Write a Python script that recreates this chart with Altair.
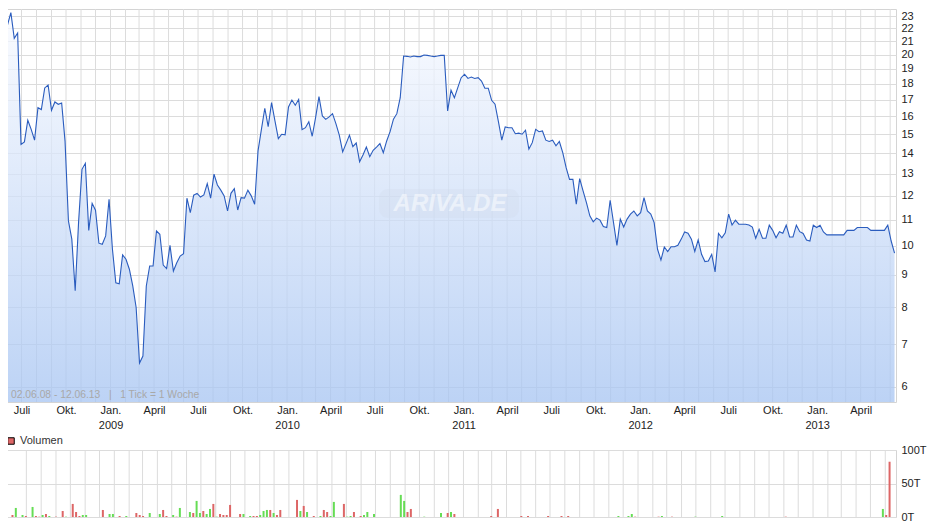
import altair as alt
import pandas as pd

# Weekly closing prices (1 Tick = 1 Woche), starting 02.06.2008
prices = [
    22.27, 23.29, 21.22, 21.63, 14.45, 14.58, 15.77, 15.26, 14.67, 16.5,
    16.39, 17.73, 17.92, 16.35, 16.85, 16.71, 16.79, 14.62, 10.95, 10.25,
    8.50, 10.9, 13.2, 13.49, 10.58, 11.67, 11.38, 10.1, 10.06, 10.37,
    11.84, 9.88, 8.75, 8.72, 9.68, 9.53, 9.19, 8.65, 8.0, 6.54,
    6.71, 8.65, 9.30, 9.30, 10.56, 10.43, 9.33, 9.21, 10.02, 9.13,
    9.41, 9.64, 9.72, 11.89, 11.28, 12.02, 12.1, 11.94, 12.03, 12.53,
    11.89, 12.97, 12.47, 12.24, 11.99, 11.35, 12.1, 12.31, 11.39, 11.91,
    11.89, 12.24, 11.99, 11.63, 14.11, 15.26, 16.47, 15.41, 16.81, 15.73,
    14.75, 14.99, 14.96, 16.55, 16.97, 16.65, 17.0, 15.24, 15.35, 15.69,
    14.88, 15.92, 17.18, 16.02, 15.82, 15.96, 16.15, 15.58, 14.94, 14.06,
    14.49, 14.94, 14.33, 14.52, 13.57, 13.9, 14.31, 13.82, 14.14, 14.31,
    14.49, 14.02, 14.63, 15.13, 15.83, 16.15, 17.11, 19.9, 19.88, 19.83,
    19.9, 19.86, 19.86, 19.98, 19.95, 19.9, 19.86, 19.9, 19.95, 19.95,
    16.31, 17.58, 17.11, 17.75, 18.40, 18.63, 18.35, 18.44, 18.35, 18.40,
    18.18, 17.71, 17.71, 16.95, 16.71, 15.69, 14.67, 15.39, 15.35, 15.35,
    15.02, 15.05, 14.99, 15.21, 14.21, 14.54, 15.26, 15.13, 15.17, 14.67,
    14.60, 14.67, 14.37, 14.60, 14.02, 13.28, 12.73, 12.73, 11.63, 12.76,
    12.21, 11.70, 11.15, 10.91, 11.06, 10.98, 10.73, 10.69, 11.80, 10.88,
    10.02, 11.02, 10.71, 11.02, 11.22, 11.35, 11.15, 11.28, 11.91, 11.35,
    11.22, 10.88, 9.88, 9.50, 9.96, 9.80, 9.97, 9.97, 10.02, 10.25,
    10.52, 10.47, 10.25, 9.80, 10.22, 9.70, 9.45, 9.47, 9.70, 9.10,
    10.46, 10.30, 10.49, 11.22, 10.79, 10.98, 10.82, 10.82, 10.82, 10.79,
    10.71, 10.28, 10.62, 10.28, 10.28, 10.78, 10.58, 10.30, 10.53, 10.47,
    10.78, 10.33, 10.33, 10.78, 10.53, 10.46, 10.22, 10.18, 10.78, 10.69,
    10.78, 10.52, 10.41, 10.41, 10.41, 10.41, 10.41, 10.41, 10.58, 10.58,
    10.58, 10.69, 10.69, 10.69, 10.69, 10.58, 10.58, 10.58, 10.58, 10.58,
    10.78, 10.18, 9.74,
]

# Weekly volume (in thousands, "T"); week index, value, direction (u = up/green, d = down/red)
vol_week = [0, 1, 3, 4, 6, 7, 8, 9, 10, 11, 13, 15, 16, 18, 19, 20, 21, 22, 27, 29,
            30, 32, 34, 37, 38, 39, 41, 44, 45, 46, 48, 49, 50, 53, 54, 55, 56, 57, 58, 59,
            60, 61, 62, 63, 64, 65, 68, 69, 71, 72, 73, 74, 75, 76, 77, 78, 79, 80, 85, 86,
            87, 88, 90, 92, 93, 94, 95, 96, 99, 100, 101, 102, 104, 105, 106, 108, 116, 117, 118, 119,
            123, 128, 130, 131, 132, 143, 145, 152, 154, 160, 164, 166, 181, 184, 185, 186, 193, 194, 197, 204,
            212, 231, 260, 261, 262]
vol_value = [3, 13.5, 3, 1.5, 15, 1.5, 0.5, 3, 4.5, 1.5, 0.5, 9, 0.5, 19.5, 7.5, 1.5, 3, 3, 10.5, 4.5,
             4.5, 1.5, 1.5, 6, 3, 1.5, 6, 4.5, 10.5, 1.5, 3, 0.5, 13.5, 7.5, 6, 24, 6, 9, 4.5, 12,
             19.5, 0.5, 4.5, 3, 3, 18, 4.5, 4.5, 1.5, 1.5, 1.5, 3, 9, 10.5, 10.5, 6, 3, 10.5, 25.5, 9,
             16.5, 7.5, 1.5, 1.5, 10.5, 7.5, 1.5, 22.5, 19.5, 0.5, 1.5, 7.5, 1.5, 3, 7.5, 4.5, 33, 24, 7.5, 12,
             0.5, 6, 6, 7.5, 4.5, 1.5, 12, 1.5, 1.5, 1.5, 1.5, 1.5, 1.5, 1.5, 4.5, 0.5, 0.5, 1.5, 0.5, 0.5,
             1.5, 0.5, 12, 3, 82.5]
vol_dir = ["d", "u", "u", "d", "u", "d", "d", "u", "d", "u", "d", "d", "u", "d", "d", "d", "u", "u", "d", "u",
           "u", "d", "u", "d", "d", "d", "u", "u", "d", "d", "u", "d", "u", "u", "d", "u", "u", "d", "u", "u",
           "d", "u", "d", "d", "d", "d", "d", "u", "u", "d", "d", "u", "u", "u", "d", "u", "d", "d", "d", "u",
           "d", "u", "d", "u", "d", "d", "u", "u", "d", "u", "u", "d", "d", "u", "u", "u", "u", "u", "d", "d",
           "u", "u", "d", "u", "d", "d", "d", "d", "d", "d", "d", "d", "u", "u", "u", "d", "d", "u", "d", "u",
           "u", "d", "u", "d", "d"]

y_ticks = list(range(6, 24))
vol_ticks = [0, 50, 100]
NB = "\u00a0"
range_text = ["02.06.08 - 12.06.13" + NB * 3 + "|" + NB * 3 + "1 Tick = 1 Woche"]
watermark = ["ARIVA.DE"]
legend_label = ["Volumen"]

dates = pd.date_range("2008-06-02", periods=len(prices), freq="7D")
price_df = pd.DataFrame({"date": dates, "price": prices})
vol_df = pd.DataFrame({"date": dates[vol_week], "vol": vol_value, "dir": vol_dir})

months = pd.date_range("2008-07-01", "2013-06-01", freq="MS")
grid_df = pd.DataFrame({"date": months})
quarter_ticks = [alt.DateTime(year=int(d.year), month=int(d.month), date=1)
                 for d in months if d.month in (1, 4, 7, 10)]

FONT = "Liberation Sans"
GRID = "#dcdcdc"
xscale = alt.Scale(domain=[alt.DateTime(year=2008, month=6, date=1),
                           alt.DateTime(year=2013, month=6, date=13)])

label_expr = ("month(datum.value) == 0 ? ['Jan.', timeFormat(datum.value, '%Y')] : "
              "month(datum.value) == 3 ? 'April' : month(datum.value) == 6 ? 'Juli' : 'Okt.'")

X = alt.X("date:T", scale=xscale,
          axis=alt.Axis(values=quarter_ticks, labelExpr=label_expr, grid=False,
                        ticks=False, domain=False, labelPadding=2, labelLineHeight=15,
                        labelOverlap=False, labelFlush=False, labelAlign="center", title=None))
Y = alt.Y("price:Q",
          scale=alt.Scale(type="log", domain=[5.68, 23.6], nice=False),
          axis=alt.Axis(orient="right", values=y_ticks, format="d", grid=True, gridColor=GRID,
                        ticks=False, domain=False, labelPadding=5, title=None))

vgrid = alt.Chart(grid_df).mark_rule(color=GRID, strokeWidth=1).encode(x=X)

area = alt.Chart(price_df).mark_area(
    fillOpacity=0.75,
    color=alt.Gradient(gradient="linear",
                       stops=[alt.GradientStop(color="#f8faff", offset=0),
                              alt.GradientStop(color="#a6c4f2", offset=1)],
                       x1=0, x2=0, y1=0, y2=1),
).encode(x=alt.X("date:T"), y=Y, y2=alt.datum(5.68))

line = alt.Chart(price_df).mark_line(color="#2a5cbe", strokeWidth=1.1).encode(
    x=alt.X("date:T"), y=alt.Y("price:Q"))

wm_box = alt.Chart(pd.DataFrame({"t": watermark})).mark_rect(
    color="#cfd9ea", opacity=0.3, cornerRadius=9
).encode(x=alt.value(372), x2=alt.value(512), y=alt.value(180), y2=alt.value(209))

wm_text = alt.Chart(pd.DataFrame({"t": watermark})).mark_text(
    font=FONT, fontSize=24, fontStyle="italic", fontWeight="bold", color="#ffffff",
    opacity=0.5, align="center", baseline="middle"
).encode(x=alt.value(443), y=alt.value(195), text="t:N")

range_lbl = alt.Chart(pd.DataFrame({"t": range_text})).mark_text(
    font=FONT, fontSize=10.3, color="#a8a8a8", align="left", baseline="alphabetic"
).encode(x=alt.value(4), y=alt.value(389), text="t:N")

main = alt.layer(vgrid, area, line, wm_box, wm_text, range_lbl).properties(width=889, height=393)

XV = alt.X("date:T", scale=xscale,
           axis=alt.Axis(values=quarter_ticks, labels=False, ticks=False, domain=False,
                         grid=False, title=None))

vgrid_v = alt.Chart(grid_df).mark_rule(color=GRID, strokeWidth=1).encode(x=XV)

bars = alt.Chart(vol_df).mark_bar(size=2).encode(
    x=alt.X("date:T"),
    y=alt.Y("vol:Q", scale=alt.Scale(domain=[0, 100], nice=False),
            axis=alt.Axis(orient="right", values=vol_ticks, labelExpr="datum.value + 'T'",
                          ticks=False, domain=False, grid=True, gridColor=GRID,
                          labelPadding=5, title=None)),
    color=alt.Color("dir:N", scale=alt.Scale(domain=["u", "d"], range=["#66dd55", "#dd6666"]),
                    legend=None),
)

leg_sq = alt.Chart(pd.DataFrame({"t": legend_label})).mark_square(
    size=42, filled=True, fill="#dd6666", stroke="#000000", strokeWidth=1, opacity=1
).encode(x=alt.value(4), y=alt.value(-9))

leg_txt = alt.Chart(pd.DataFrame({"t": legend_label})).mark_text(
    font=FONT, fontSize=11, color="#333333", align="left", baseline="middle"
).encode(x=alt.value(13), y=alt.value(-9), text="t:N")

volume = alt.layer(vgrid_v, bars, leg_sq, leg_txt).properties(width=889, height=67)

chart = alt.vconcat(main, volume, spacing=48, bounds="flush").properties(
    padding={"left": -4, "top": 0, "right": 2, "bottom": 0}
).configure_view(stroke="#d4d4d4").configure_axis(
    labelFont=FONT, labelFontSize=11, labelColor="#222222"
)

chart.save("out.html", embed_options={"renderer": "svg", "actions": False})
